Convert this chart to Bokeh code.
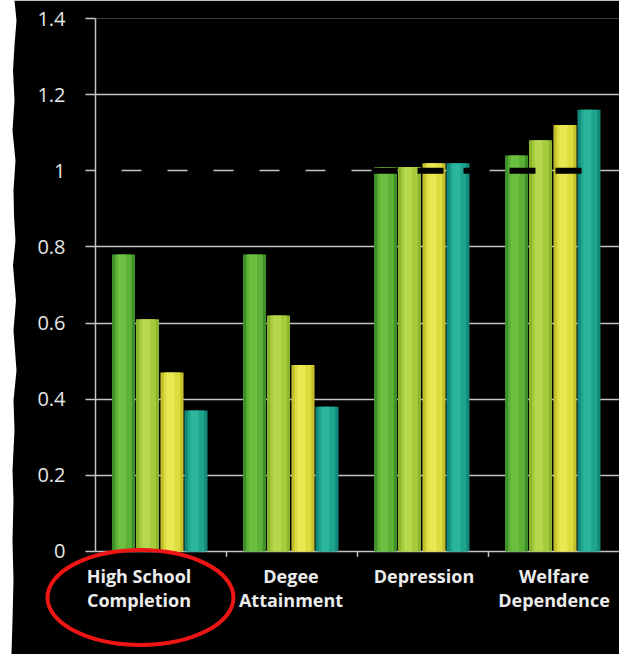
from bokeh.plotting import figure
from bokeh.models import Range1d, FixedTicker, CustomJSTickFormatter, ColumnDataSource
from bokeh.transform import dodge
from bokeh.core.properties import value
from bokeh.embed import file_html
from bokeh.resources import INLINE

# ---- data ----
categories = ["High School Completion", "Degee Attainment", "Depression", "Welfare Dependence"]
category_labels = ["High School\nCompletion", "Degee\nAttainment", "Depression", "Welfare\nDependence"]
series1 = [0.78, 0.78, 1.01, 1.04]
series2 = [0.61, 0.62, 1.01, 1.08]
series3 = [0.47, 0.49, 1.02, 1.12]
series4 = [0.37, 0.38, 1.02, 1.16]
y_ticks = [0, 0.2, 0.4, 0.6, 0.8, 1.0, 1.2, 1.4]
reference_level = 1.0

# ---- styles ----
W, H = 619, 654
LEFT, TOP = 95, 18
Y0, Y1 = -0.2706, 1.4
series = [series1, series2, series3, series4]
offsets = [-0.286, -0.103, 0.084, 0.267]
base_colors = ["#3f8f2a", "#8cb52e", "#c4c02c", "#12897a"]
mid_colors = ["#5cb236", "#a6cc3c", "#dcdc3e", "#1ea58e"]
hi_colors = ["#78c84a", "#bfe05a", "#eef060", "#34c0a6"]
label_dx = [-22, -1, 1, 0]
grid_col = "#c4c4c4"

p = figure(x_range=categories, y_range=Range1d(Y0, Y1),
           width=W, height=H, output_backend="svg", toolbar_location=None,
           min_border_left=LEFT, min_border_right=0, min_border_top=TOP, min_border_bottom=0)
p.background_fill_color = "black"
p.border_fill_color = "black"
p.outline_line_color = None
p.xaxis.visible = False
p.xgrid.grid_line_color = None
p.ygrid.ticker = FixedTicker(ticks=y_ticks)
p.ygrid.grid_line_color = grid_col
p.ygrid.grid_line_width = 1.5

ax = p.yaxis[0]
ax.ticker = FixedTicker(ticks=y_ticks)
ax.formatter = CustomJSTickFormatter(code="return String(Math.round(tick*10)/10)")
ax.bounds = (0, 1.4)
ax.axis_line_color = grid_col
ax.axis_line_width = 1.5
ax.major_tick_line_color = grid_col
ax.major_tick_line_width = 1.5
ax.major_tick_out = 10
ax.major_tick_in = 0
ax.minor_tick_line_color = None
ax.major_label_standoff = 20
ax.major_label_text_color = "#e6e6e6"
ax.major_label_text_font = "Open Sans"
ax.major_label_text_font_size = "20px"

ncat = len(categories)
sx = (W - LEFT) / ncat
sy = (H - TOP) / (Y1 - Y0)

# hide any seam at the frame's left edge below the baseline
seam = p.segment(x0=[0], y0=[Y0], x1=[0], y1=[-0.003], line_color="black", line_width=3)
seam.level = "annotation"

bar_w = 0.176
for vals, off, c0, c1, c2 in zip(series, offsets, base_colors, mid_colors, hi_colors):
    src = ColumnDataSource(dict(cat=categories, top=vals))
    x = dodge("cat", off, range=p.x_range)
    p.vbar(x=x, top="top", bottom=0, width=bar_w, source=src, fill_color=c0, line_color=None)
    p.vbar(x=x, top="top", bottom=0, width=bar_w * 0.72, source=src, fill_color=c1, line_color=None)
    p.vbar(x=dodge("cat", off - 0.012, range=p.x_range), top="top", bottom=0, width=bar_w * 0.35,
           source=src, fill_color=c2, fill_alpha=0.6, line_color=None)

# dashed reference line (black dashes over the white gridline), ending near x=598px
p.segment(x0=[0], y0=[reference_level], x1=[(598 - LEFT) / sx], y1=[reference_level],
          line_color="black", line_width=6, line_dash="26 20")

# category boundary ticks below the baseline
bounds_x = list(range(1, ncat))
p.segment(x0=bounds_x, y0=[0] * len(bounds_x), x1=bounds_x, y1=[-0.014] * len(bounds_x),
          line_color=grid_col, line_width=1.5)

# category labels
lsrc = ColumnDataSource(dict(cat=categories, text=category_labels, dx=label_dx))
t = p.text(x="cat", y=0, text="text", source=lsrc, x_offset="dx", y_offset=13,
           text_align="center", text_baseline="top", text_color="#ececec",
           text_font=value("Open Sans"), text_font_style="bold", text_font_size="18px",
           text_line_height=0.98)
t.level = "overlay"

# red highlight ellipse around the first category label
r = p.ellipse(x=[0.3435], y=[-0.1208], width=[186], height=[95], width_units="screen",
              height_units="screen", fill_color=None, line_color="#ee1515", line_width=4)
r.level = "overlay"

# torn white paper edge on the left (decoration, given in canvas pixels)
edge_py = [0, 20, 45, 70, 100, 130, 160, 190, 215, 240, 265, 300, 330, 370, 400, 430, 470, 500,
           540, 580, 620, 654]
edge_px = [14, 16, 14, 12.5, 14, 12, 15, 13, 13.5, 15, 12.5, 15.5, 13, 16, 13, 14, 12, 13,
           12, 13, 12, 11]
xpx = [-5] + edge_px + [-5]
ypx = [-5] + edge_py + [H + 5]
ex = [(v - LEFT) / sx for v in xpx]
ey = [Y1 - (v - TOP) / sy for v in ypx]
e = p.patch(x=ex, y=ey, fill_color="white", line_color=None)
e.level = "overlay"

open("out.html", "w").write(file_html(p, INLINE))
